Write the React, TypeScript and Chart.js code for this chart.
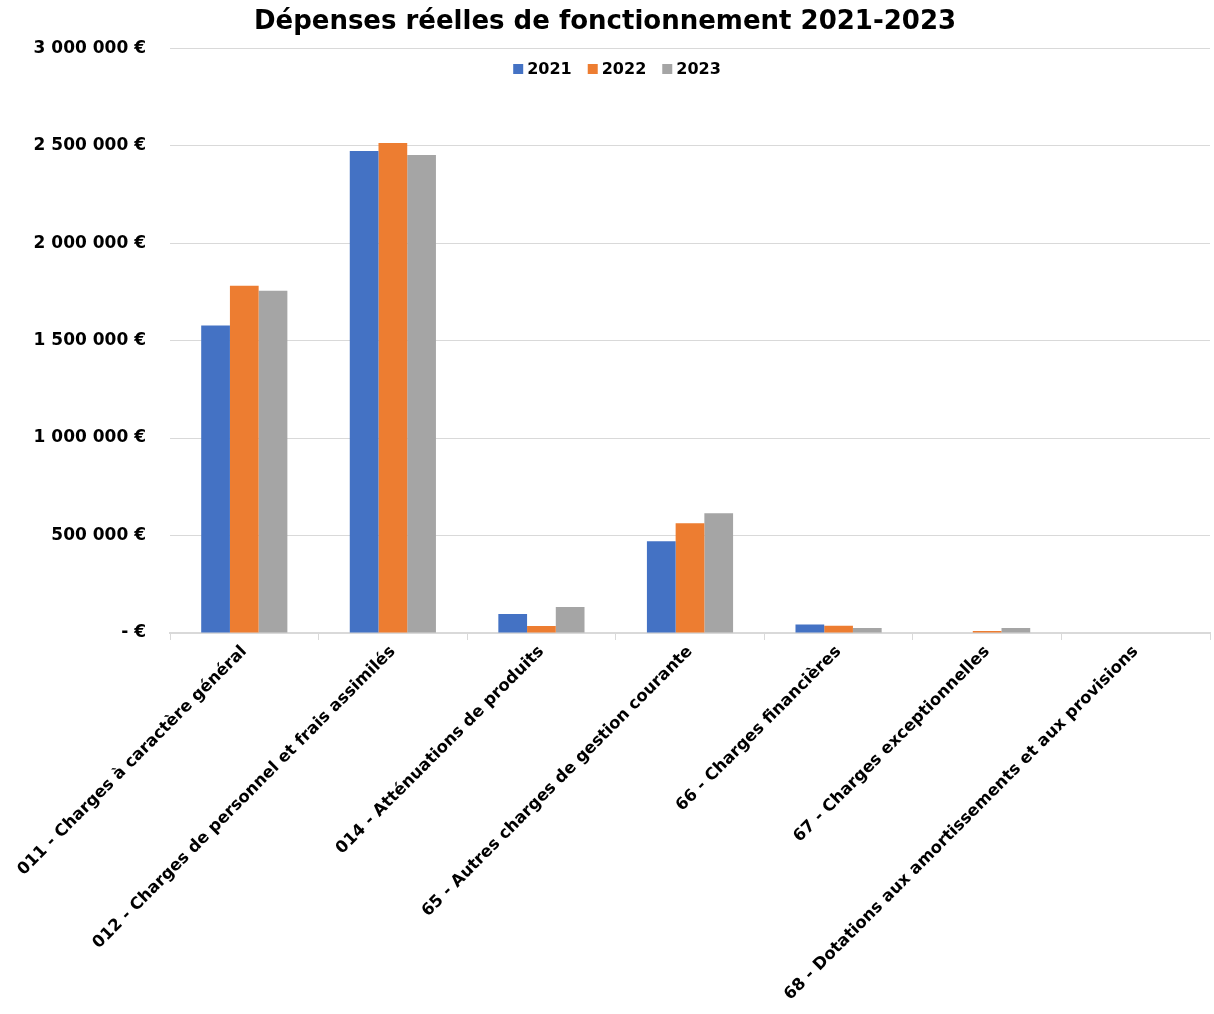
import React, { useEffect, useRef } from "react";
import { Chart, registerables } from "chart.js";

Chart.register(...registerables);

const TITLE = "Dépenses réelles de fonctionnement 2021-2023";
const categories = [
  "011 - Charges à caractère général",
  "012 - Charges de personnel et frais assimilés",
  "014 - Atténuations de produits",
  "65 - Autres charges de gestion courante",
  "66 - Charges financières",
  "67 - Charges exceptionnelles",
  "68 - Dotations aux amortissements et aux provisions",
];
const years = ["2021", "2022", "2023"];
const values2021 = [1577000, 2473000, 97000, 471000, 44000, 0, 0];
const values2022 = [1782000, 2514000, 36000, 563000, 37000, 10000, 0];
const values2023 = [1756000, 2452000, 133000, 614000, 26000, 26000, 0];
const colors = ["#4472C4", "#ED7D31", "#A5A5A5"];
const yTicks = [0, 500000, 1000000, 1500000, 2000000, 2500000, 3000000];

const FONT = "'DejaVu Sans', sans-serif";

function formatEuro(v: number): string {
  if (v === 0) return "- €";
  const s = Math.round(v).toString().replace(/\B(?=(\d{3})+(?!\d))/g, " ");
  return s + " €";
}

const legendPlugin = {
  id: "customLegend",
  afterDraw(chart: any) {
    const ctx = chart.ctx;
    const items = chart.data.datasets.map((d: any) => ({ label: d.label, color: d.backgroundColor }));
    ctx.save();
    ctx.font = `bold 16px ${FONT}`;
    ctx.textBaseline = "middle";
    const box = 10;
    const gapBoxText = 4;
    const gapItems = 16;
    const widths = items.map((it: any) => box + gapBoxText + ctx.measureText(it.label).width);
    const total = widths.reduce((a: number, b: number) => a + b, 0) + gapItems * (items.length - 1);
    let x = 617 - total / 2;
    const y = 69;
    items.forEach((it: any, i: number) => {
      ctx.fillStyle = it.color;
      ctx.fillRect(x, y - box / 2, box, box);
      ctx.fillStyle = "#000000";
      ctx.textAlign = "left";
      ctx.fillText(it.label, x + box + gapBoxText, y + 1);
      x += widths[i] + gapItems;
    });
    ctx.restore();
  },
};

export default function App() {
  const canvasRef = useRef<HTMLCanvasElement | null>(null);

  useEffect(() => {
    if (!canvasRef.current) return;
    const series = [values2021, values2022, values2023];
    const chart = new Chart(canvasRef.current, {
      type: "bar",
      data: {
        labels: categories,
        datasets: years.map((y, i) => ({
          label: y,
          data: series[i],
          backgroundColor: colors[i],
          borderWidth: 0,
          categoryPercentage: 0.58,
          barPercentage: 1.0,
        })),
      },
      options: {
        animation: false,
        responsive: false,
        maintainAspectRatio: false,
        layout: { padding: { top: 4, right: 4, left: 0, bottom: 0 } },
        plugins: {
          legend: { display: false },
          tooltip: { enabled: false },
          title: {
            display: true,
            text: TITLE,
            color: "#000000",
            font: { family: FONT, size: 26, weight: "bold" },
            padding: { top: 3, bottom: 10 },
          },
        },
        scales: {
          x: {
            grid: {
              display: true,
              drawOnChartArea: false,
              offset: true,
              color: "#d9d9d9",
              tickLength: 7,
            },
            border: { display: true, color: "#d9d9d9", width: 2 },
            ticks: {
              autoSkip: false,
              minRotation: 45,
              maxRotation: 45,
              color: "#000000",
              font: { family: FONT, size: 16.5, weight: "bold" },
              padding: 2,
            },
            afterFit: (s: any) => {
              s.height = 381;
            },
          },
          y: {
            min: 0,
            max: 3000000,
            afterBuildTicks: (s: any) => {
              s.ticks = yTicks.map((v) => ({ value: v }));
            },
            grid: { color: "#d9d9d9", lineWidth: 1, drawTicks: false },
            border: { display: false },
            ticks: {
              color: "#000000",
              font: { family: FONT, size: 17, weight: "bold" },
              padding: 24,
              callback: (v: any) => formatEuro(Number(v)),
            },
            afterFit: (s: any) => {
              s.width = 170;
            },
          },
        },
      },
      plugins: [legendPlugin],
    });
    return () => chart.destroy();
  }, []);

  return (
    <div style={{ position: "fixed", left: 0, top: 0, width: 1214, height: 1014, background: "#ffffff" }}>
      <canvas ref={canvasRef} width={1214} height={1014} style={{ display: "block" }} />
    </div>
  );
}
